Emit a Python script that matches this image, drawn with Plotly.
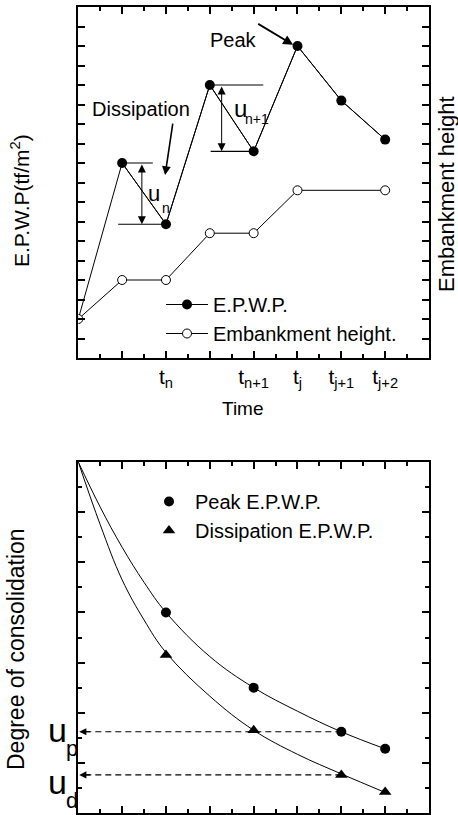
import plotly.graph_objects as go

# ---------------- data ----------------
# Top panel: excess pore water pressure and embankment height vs time index
time_idx = [0, 1, 2, 3, 4, 5, 6, 7]
epwp = [1.0, 5.0, 3.43, 7.0, 5.3, 8.0, 6.6, 5.6]
emb_x = [0, 1, 2, 3, 4, 5, 7]
emb_h = [1.0, 2.0, 2.0, 3.2, 3.2, 4.3, 4.3]
label_tickvals = [2, 4, 5, 6, 7]
label_ticktext = ["t<sub>n</sub>", "t<sub>n+1</sub>", "t<sub>j</sub>",
                  "t<sub>j+1</sub>", "t<sub>j+2</sub>"]

# Bottom panel: degree of consolidation
pt_x = [2, 4, 6, 7]
peak_u = [4.0, 2.5, 1.62, 1.28]
diss_u = [3.15, 1.65, 0.76, 0.42]
curve_x = [0, 0.5, 1, 1.5, 2, 3, 4, 5, 6, 7]
peak_curve = [7.0, 6.1, 5.3, 4.6, 4.0, 3.12, 2.5, 2.03, 1.62, 1.28]
diss_curve = [7.0, 5.75, 4.65, 3.85, 3.2, 2.33, 1.65, 1.17, 0.78, 0.41]

FONT = "Liberation Sans, Arial, Helvetica, sans-serif"
W, H = 458, 815


def px(xp):
    return xp / W


def py(yp):
    return 1 - yp / H


fig = go.Figure()

# ---------------- top panel ----------------
fig.add_trace(go.Scatter(x=time_idx, y=epwp, mode="lines",
                         line=dict(color="black", width=1),
                         showlegend=False, hoverinfo="skip",
                         xaxis="x", yaxis="y"))
fig.add_trace(go.Scatter(x=time_idx[1:], y=epwp[1:], mode="lines+markers",
                         name="E.P.W.P.",
                         line=dict(color="black", width=1),
                         marker=dict(symbol="circle", size=10, color="black"),
                         xaxis="x", yaxis="y", legend="legend"))
fig.add_trace(go.Scatter(x=emb_x, y=emb_h, mode="lines+markers",
                         name="Embankment height.",
                         line=dict(color="black", width=1),
                         marker=dict(symbol="circle", size=9, color="white",
                                     line=dict(color="black", width=1)),
                         xaxis="x", yaxis="y", legend="legend"))

# ---------------- bottom panel ----------------
fig.add_trace(go.Scatter(x=curve_x, y=peak_curve, mode="lines",
                         line=dict(color="black", width=1, shape="spline", smoothing=1.1),
                         showlegend=False, hoverinfo="skip",
                         xaxis="x2", yaxis="y2"))
fig.add_trace(go.Scatter(x=curve_x, y=diss_curve, mode="lines",
                         line=dict(color="black", width=1, shape="spline", smoothing=1.1),
                         showlegend=False, hoverinfo="skip",
                         xaxis="x2", yaxis="y2"))
# dashed reference lines (u_p from peak at t_j+1, u_d from dissipation at t_j+1)
for lvl in (peak_u[2], diss_u[2]):
    fig.add_trace(go.Scatter(x=[pt_x[2], 0.15], y=[lvl, lvl], mode="lines",
                             line=dict(color="black", width=1.2, dash="6px,4px"),
                             showlegend=False, hoverinfo="skip",
                             xaxis="x2", yaxis="y2"))
fig.add_trace(go.Scatter(x=pt_x, y=peak_u, mode="markers", name="Peak E.P.W.P.",
                         marker=dict(symbol="circle", size=10, color="black"),
                         xaxis="x2", yaxis="y2", legend="legend2"))
fig.add_trace(go.Scatter(x=pt_x, y=diss_u, mode="markers",
                         name="Dissipation E.P.W.P.",
                         marker=dict(symbol="triangle-up", size=11, color="black"),
                         xaxis="x2", yaxis="y2", legend="legend2"))

# ---------------- axes ----------------
xdom = [px(78.3), px(429)]
common = dict(showgrid=False, zeroline=False, showline=True, linecolor="black",
              linewidth=2, mirror="allticks", ticks="inside", ticklen=7,
              tickwidth=1.5, tickcolor="black", showticklabels=False,
              tickmode="linear", tick0=0, dtick=1)
minor = dict(ticks="inside", ticklen=4, tickwidth=1.5, tickcolor="black",
             tickmode="linear", tick0=0, dtick=0.5, showgrid=False)

fig.update_layout(
    xaxis=dict(domain=xdom, range=[0, 8], anchor="y", minor=minor, **common),
    yaxis=dict(domain=[py(358), py(7)], range=[0, 9], anchor="x",
               minor=minor, **common),
    xaxis2=dict(domain=xdom, range=[0, 8], anchor="y2", minor=minor, **common),
    yaxis2=dict(domain=[py(813), py(462)], range=[0, 7], anchor="x2",
                minor=minor, **common),
    # label-only axis for the time tick labels of the top panel
    xaxis3=dict(domain=xdom, range=[0, 8], anchor="y", overlaying="x",
                side="bottom", showgrid=False, zeroline=False, showline=False,
                ticks="", tickmode="array", tickvals=label_tickvals,
                ticktext=label_ticktext, ticklabelstandoff=4,
                tickfont=dict(family=FONT, size=21, color="black")),
)
# invisible trace to activate the label axis
fig.add_trace(go.Scatter(x=[label_tickvals[0]], y=[epwp[0]], mode="markers",
                         marker=dict(size=1, color="rgba(0,0,0,0)"),
                         showlegend=False, hoverinfo="skip",
                         xaxis="x3", yaxis="y"))

# ---------------- legends ----------------
fig.update_layout(
    legend=dict(x=px(161), y=py(285), xanchor="left", yanchor="top",
                bgcolor="rgba(0,0,0,0)", font=dict(family=FONT, size=20, color="black"),
                tracegroupgap=0, itemsizing="trace", itemwidth=42),
    legend2=dict(x=px(143), y=py(482), xanchor="left", yanchor="top",
                 bgcolor="rgba(0,0,0,0)", font=dict(family=FONT, size=20, color="black"),
                 tracegroupgap=0, itemsizing="trace", itemwidth=42),
)

# ---------------- shapes (brackets) ----------------
shapes = []
def hline(x0, x1, y, xr="x", yr="y"):
    shapes.append(dict(type="line", xref=xr, yref=yr, x0=x0, x1=x1, y0=y, y1=y,
                       line=dict(color="black", width=1.2), layer="below"))

hline(time_idx[1], 1.7, epwp[1])
hline(0.91, time_idx[2], epwp[2])
hline(time_idx[3], 4.22, epwp[3])
hline(3.02, time_idx[4], epwp[4])
fig.update_layout(shapes=shapes)

# ---------------- annotations ----------------
ann = []
def arrow(x, y, ax, ay, width=1.0, size=1.6, side="end", xr="x", yr="y"):
    ann.append(dict(x=x, y=y, ax=ax, ay=ay, xref=xr, yref=yr, axref=xr, ayref=yr,
                    text="", showarrow=True, arrowhead=2, arrowsize=size,
                    arrowwidth=width, arrowcolor="black", arrowside=side))

def label(text, x, y, size, xr="x", yr="y", angle=0):
    ann.append(dict(x=x, y=y, xref=xr, yref=yr, text=text, showarrow=False,
                    textangle=angle, xanchor="center", yanchor="middle",
                    font=dict(family=FONT, size=size, color="black")))

# double arrows u_n, u_n+1
arrow(1.45, epwp[2], 1.45, epwp[1], width=1, size=1.6, side="end+start")
arrow(3.27, epwp[4], 3.27, epwp[3], width=1, size=1.6, side="end+start")
# Peak / Dissipation pointers
arrow(4.9, 8.03, 4.07, 8.59, width=1.8, size=1.1)
arrow(1.98, 4.69, 2.16, 6.05, width=1.6, size=1.1)
# dashed-line arrowheads at the axis
arrow(0.02, peak_u[2], 0.3, peak_u[2], width=1.2, size=1.2, xr="x2", yr="y2")
arrow(0.02, diss_u[2], 0.3, diss_u[2], width=1.2, size=1.2, xr="x2", yr="y2")

label("Peak", 3.55, 8.15, 20)
label("Dissipation", 1.43, 6.38, 20)
label("u", 1.73, 4.23, 22)
label("n", 2.0, 3.85, 14)
label("u", 3.69, 6.41, 24)
label("n+1", 4.07, 6.13, 14)

# axis titles
label("E.P.W.P(tf/m<sup>2</sup>)", px(20), py(201), 21, xr="paper", yr="paper", angle=-90)
label("Embankment height", px(447), py(194), 22, xr="paper", yr="paper", angle=-90)
label("Time", px(243), py(408), 19, xr="paper", yr="paper")
label("Degree of consolidation", px(16), py(649), 23, xr="paper", yr="paper", angle=-90)

# u_p / u_d labels
label("u", px(58), py(730), 34, xr="paper", yr="paper")
label("p", px(72), py(748), 22, xr="paper", yr="paper")
label("u", px(58), py(782), 34, xr="paper", yr="paper")
label("d", px(72), py(800), 22, xr="paper", yr="paper")

fig.update_layout(annotations=ann)

fig.update_layout(width=W, height=H, margin=dict(l=0, r=0, t=0, b=0),
                  paper_bgcolor="white", plot_bgcolor="white",
                  font=dict(family=FONT, color="black"))

fig.write_html("out.html")
